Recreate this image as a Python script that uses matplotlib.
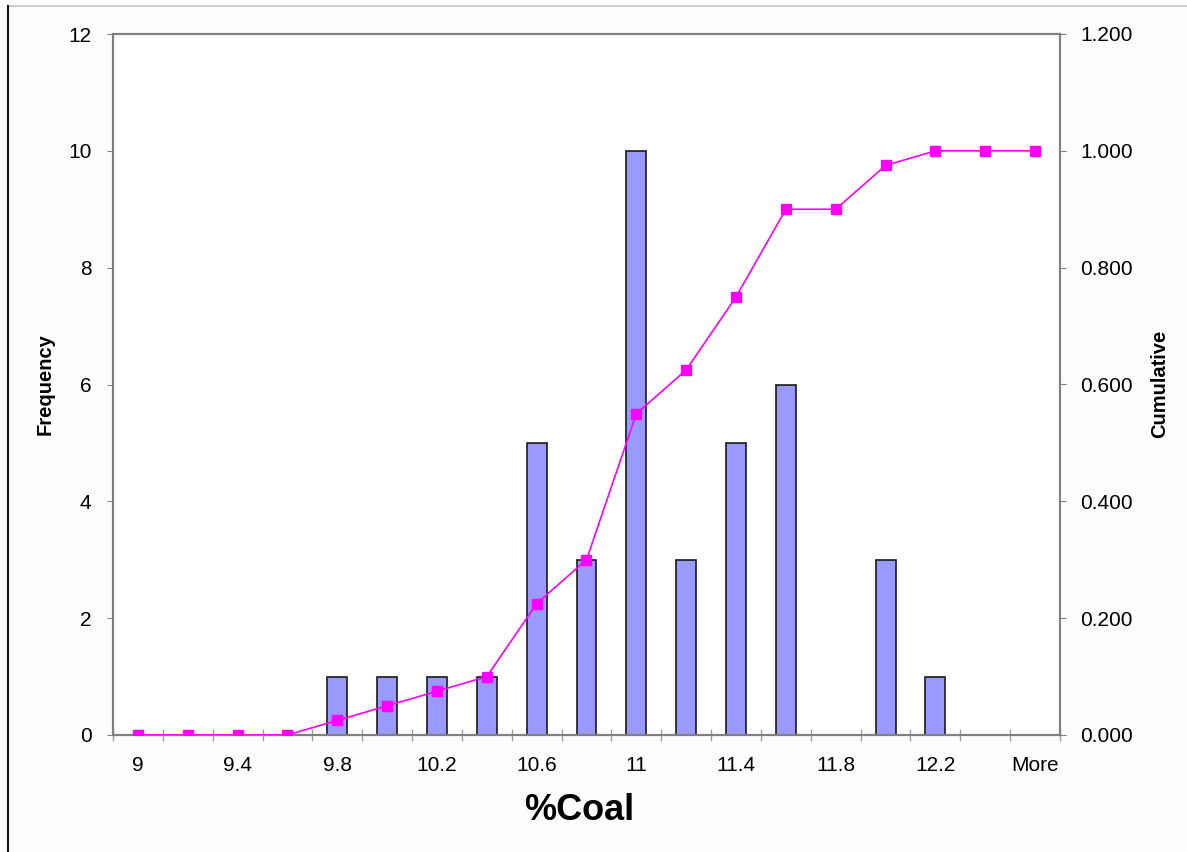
import matplotlib
matplotlib.use("Agg")
import matplotlib.pyplot as plt
from matplotlib.lines import Line2D
from matplotlib.ticker import FixedLocator, FuncFormatter

# Histogram bins of %Coal and their counts
bins = ["9", "9.2", "9.4", "9.6", "9.8", "10", "10.2", "10.4", "10.6", "10.8",
        "11", "11.2", "11.4", "11.6", "11.8", "12", "12.2", "12.4", "More"]
frequency = [0, 0, 0, 0, 1, 1, 1, 1, 5, 3, 10, 3, 5, 6, 0, 3, 1, 0, 0]
cumulative = [0.000, 0.000, 0.000, 0.000, 0.025, 0.050, 0.075, 0.100, 0.225, 0.300,
              0.550, 0.625, 0.750, 0.900, 0.900, 0.975, 1.000, 1.000, 1.000]

plt.rcParams["font.family"] = ["Liberation Sans", "DejaVu Sans"]

fig = plt.figure(figsize=(11.87, 8.52), dpi=100)
fig.patch.set_facecolor("#fdfdfd")
W, H = 1187, 852
ax = fig.add_axes([113 / W, 1 - 735 / H, (1060 - 113) / W, (735 - 34) / H])
ax.set_facecolor("white")

x = list(range(len(bins)))
ax.bar(x, frequency, width=0.4, color="#9999ff", edgecolor="#1a1a1a",
       linewidth=1.2, zorder=2)

ax.set_xlim(-0.5, len(bins) - 0.5)
ax.set_ylim(0, 12)
ax.set_yticks(range(0, 13, 2))

# category labels on every other bin, tick marks on bin boundaries
ax.xaxis.set_major_locator(FixedLocator(x[::2]))
ax.set_xticklabels(bins[::2])
ax.xaxis.set_minor_locator(FixedLocator([i - 0.5 for i in range(len(bins) + 1)]))
ax.tick_params(axis="x", which="major", length=0, pad=15, labelsize=15)
ax.tick_params(axis="x", which="minor", direction="inout", length=8.5,
               color="#a0a0a0", width=1)
ax.tick_params(axis="y", direction="out", length=4.5, color="#808080",
               labelsize=15, pad=11)

for s in ax.spines.values():
    s.set_color("#808080")
    s.set_linewidth(1.5)

ax2 = ax.twinx()
ax2.plot(x, cumulative, color="#ff00ff", linewidth=1.2, marker="s",
         markersize=6.5, markerfacecolor="#ff00ff", markeredgecolor="#ff00ff",
         zorder=3)
ax2.set_ylim(0, 1.2)
ax2.set_yticks([0, 0.2, 0.4, 0.6, 0.8, 1.0, 1.2])
ax2.yaxis.set_major_formatter(FuncFormatter(lambda v, p: f"{v:.3f}"))
ax2.tick_params(axis="y", direction="out", length=4.5, color="#808080",
                labelsize=15, pad=10)
for s in ax2.spines.values():
    s.set_color("#808080")
    s.set_linewidth(1.5)

fig.text(45 / W, 1 - 384 / H, "Frequency", rotation=90, ha="center",
         va="center", fontsize=14.5, fontweight="bold")
fig.text(1160 / W, 1 - 384 / H, "Cumulative", rotation=90, ha="center",
         va="center", fontsize=14.5, fontweight="bold")
fig.text(579 / W, 1 - 811 / H, "%Coal", ha="center", va="center",
         fontsize=26, fontweight="bold")

# frame edges of the chart sheet
fig.add_artist(Line2D([8 / W, 1], [1 - 6 / H, 1 - 6 / H], color="#d0d0d0",
                      linewidth=1.5, transform=fig.transFigure))
fig.add_artist(Line2D([8 / W, 8 / W], [0, 1 - 6 / H], color="#111111",
                      linewidth=1.5, transform=fig.transFigure))

fig.savefig("out.png", dpi=100, facecolor=fig.get_facecolor())
